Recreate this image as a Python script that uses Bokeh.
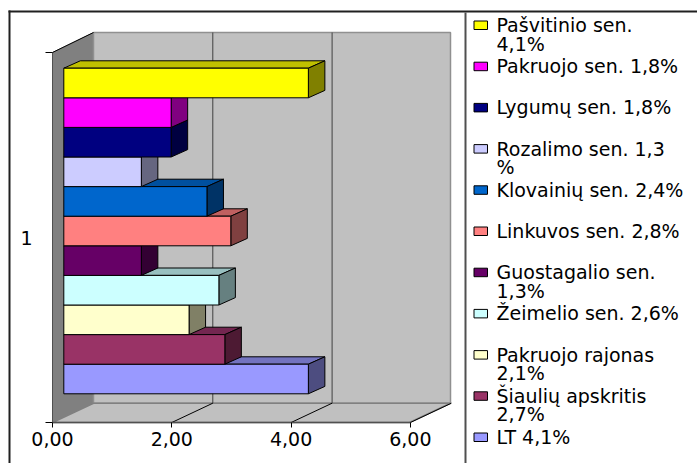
from bokeh.core.properties import value
from bokeh.embed import file_html
from bokeh.resources import INLINE
from bokeh.plotting import figure
from bokeh.models import Range1d, FixedTicker, LinearAxis

# ---------- data (top to bottom in the chart) ----------
names = ["Pašvitinio sen.\n4,1%", "Pakruojo sen. 1,8%", "Lygumų sen. 1,8%", "Rozalimo sen. 1,3\n%",
         "Klovainių sen. 2,4%", "Linkuvos sen. 2,8%", "Guostagalio sen.\n1,3%", "Žeimelio sen. 2,6%",
         "Pakruojo rajonas\n2,1%", "Šiaulių apskritis\n2,7%", "LT  4,1%"]
values = [4.1, 1.8, 1.8, 1.3, 2.4, 2.8, 1.3, 2.6, 2.1, 2.7, 4.1]
front = ["#FFFF00", "#FF00FF", "#000080", "#CCCCFF", "#0066CC", "#FF8080",
         "#660066", "#CCFFFF", "#FFFFCC", "#993366", "#9999FF"]
top = ["#C0C000", "#C000C0", "#000060", "#9999C0", "#00509F", "#C06060",
       "#4D004D", "#99C0C0", "#C0C099", "#732650", "#7373C0"]
side = ["#808000", "#800080", "#000040", "#666680", "#003366", "#804040",
        "#330033", "#668080", "#808066", "#4D1A33", "#4D4D80"]
x_ticks = [0, 2, 4, 6]
x_tick_labels = {0: "0,00", 2: "2,00", 4: "4,00", 6: "6,00"}

FONT = "DejaVu Sans"
FS = "19px"

# ---------- geometry: the plot frame fills the page ----------
PXX = 59.65          # px per x unit
PXY = 29.6           # px per bar
X0PX, Y0PX = 52, 393.3   # page position of x=0 and of the bottom of the lowest bar
FR, FT, FB = 450, 32, 422  # right, top and floor of the 3D box on the page
W, H = 697, 463

def dx(px):
    return (px - X0PX) / PXX

def dy(py):
    return (Y0PX - py) / PXY

x_hi = dx(FR)
y_lo = dy(FB)
y_hi = dy(FT)
y_front_top = dy(52)

WALL_DX, WALL_DY = 41 / PXX, 19.3 / PXY
BAR_DX, BAR_DY = 16.5 / PXX, 7.4 / PXY
BAR_X0 = 11.3 / PXX

p = figure(width=W, height=H, output_backend="svg", toolbar_location=None,
           x_range=Range1d(dx(0), dx(W)), y_range=Range1d(dy(H), dy(0)),
           x_axis_type=None, y_axis_type=None,
           min_border=0, min_border_left=0, min_border_right=0, min_border_top=0, min_border_bottom=0,
           background_fill_color="white", border_fill_color="white", outline_line_color=None)
p.grid.visible = False

# ---------- 3D box ----------
bk = y_lo + WALL_DY
p.patch([0, WALL_DX, WALL_DX, 0], [y_lo, bk, y_hi, y_front_top],
        fill_color="#808080", line_color="#808080")
p.patch([WALL_DX, x_hi, x_hi, WALL_DX], [bk, bk, y_hi, y_hi],
        fill_color="#C0C0C0", line_color="#909090", line_width=1.5)
p.patch([0, WALL_DX, x_hi, x_hi - WALL_DX], [y_lo, bk, bk, y_lo],
        fill_color="#C0C0C0", line_color="#808080", line_width=1.5)
p.line([0, WALL_DX], [y_front_top, y_hi], line_color="black", line_width=1)
for t in x_ticks[1:3]:
    p.line([t + WALL_DX, t + WALL_DX], [bk, y_hi], line_color="#404040", line_width=1)
for t in x_ticks[1:]:
    p.line([t, t + WALL_DX], [y_lo, bk], line_color="black", line_width=1)

# ---------- axes, drawn inside the full-page frame ----------
mid = (y_lo + y_front_top) / 2
ax = LinearAxis(fixed_location=0, bounds=(y_lo, y_front_top),
                ticker=FixedTicker(ticks=[mid], minor_ticks=[y_lo, y_front_top]),
                major_label_overrides={mid: "1"},
                major_tick_in=0, major_tick_out=0, minor_tick_in=0, minor_tick_out=7,
                minor_tick_line_color="#000000", axis_line_color="#505050", axis_line_width=1,
                major_label_standoff=13, major_label_text_font=FONT, major_label_text_font_size=FS,
                major_label_text_color="black")
p.add_layout(ax, "left")
bx = LinearAxis(fixed_location=y_lo, bounds=(0, x_ticks[-1]),
                ticker=FixedTicker(ticks=x_ticks), major_label_overrides=x_tick_labels,
                major_tick_in=0, major_tick_out=5, minor_tick_line_color=None,
                major_tick_line_color="#000000", axis_line_color="#505050", axis_line_width=1.5,
                major_label_standoff=4, major_label_text_font=FONT, major_label_text_font_size=FS,
                major_label_text_color="black")
p.add_layout(bx, "below")

# ---------- bars (lowest first, upper ones cover the tops below) ----------
n = len(values)
for i in range(n - 1, -1, -1):
    y = n - 1 - i
    x1 = BAR_X0 + values[i]
    p.patch([BAR_X0, BAR_X0 + BAR_DX, x1 + BAR_DX, x1], [y + 1, y + 1 + BAR_DY, y + 1 + BAR_DY, y + 1],
            fill_color=top[i], line_color="black", line_width=1)
    p.patch([x1, x1 + BAR_DX, x1 + BAR_DX, x1], [y, y + BAR_DY, y + 1 + BAR_DY, y + 1],
            fill_color=side[i], line_color="black", line_width=1)
    p.hbar(y=y + 0.5, height=1, left=BAR_X0, right=x1, fill_color=front[i], line_color="black", line_width=1)

# ---------- outer frame and divider ----------
def sbox(l, r, t, b, fill, line=None, lw=0):
    p.quad(left=dx(l), right=dx(r), top=dy(t), bottom=dy(b), fill_color=fill, line_color=line, line_width=lw)

sbox(8, 697, 10, 12, "#202020")
sbox(8, 10, 10, 463, "#202020")
sbox(464, 466, 12, 463, "#505050")

# ---------- legend ----------
for i, name in enumerate(names):
    cy = 25 + 41.2 * i
    sbox(473.5, 487, cy - 4.5, cy + 4, front[i], "black", 1)
    for j, line in enumerate(name.split("\n")):
        p.text(x=[dx(496)], y=[dy(cy + 18.5 * j - 0.5)], text=[line], text_font=value(FONT), text_font_size=FS,
               text_color="black", text_baseline="middle", text_align="left")

open("out.html", "w").write(file_html(p, INLINE))
